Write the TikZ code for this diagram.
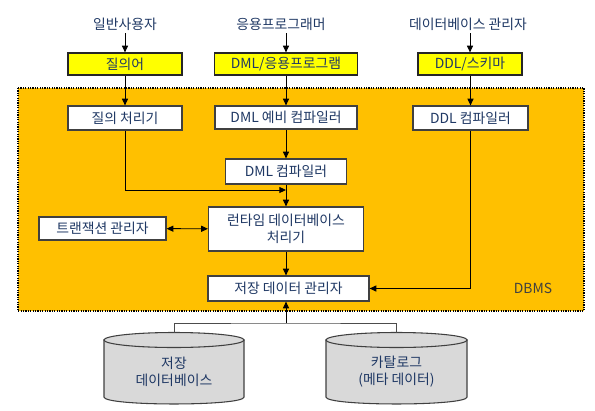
\documentclass[tikz,border=0pt]{standalone}
\usepackage{fontspec}
\setmainfont{Noto Sans CJK KR}
\usetikzlibrary{arrows.meta}
\definecolor{dbmsorange}{HTML}{FFC000}
\definecolor{inyellow}{HTML}{FFFF00}
\definecolor{labelblue}{HTML}{1F3864}
\definecolor{cylgray}{HTML}{D9D9D9}
\tikzset{
  txt/.style={text=labelblue, font=\fontsize{10.4}{12.75}\selectfont, align=center, inner sep=0pt},
  inbox/.style={txt, draw=black!85, line width=0.9pt, fill=inyellow, minimum height=16.5pt},
  procbox/.style={txt, draw=black!75, line width=0.9pt, fill=white},
  flow/.style={-{Triangle[length=5pt,width=4.5pt]}, line width=0.7pt},
  cyl/.style={draw=black!75, line width=0.8pt, fill=cylgray},
  dbmsarea/.style={fill=dbmsorange, draw=black, line width=1.2pt, dash pattern=on 0.9pt off 0.9pt},
}

\begin{document}
\begin{tikzpicture}[x=0.75pt, y=-0.75pt]
  \useasboundingbox (0,0) rectangle (595,410);
  % DBMS area
  \draw[dbmsarea] (18,88) rectangle (584,311);
  \node[txt, text=black!75] (dbmslabel) at (533,288) {DBMS};
  % users
  \node[txt, inner sep=2pt] (user) at (125,24) {일반사용자};
  \node[txt, inner sep=2pt] (progr) at (281,24) {응용프로그래머};
  \node[txt, inner sep=2pt] (dba) at (468,24) {데이터베이스 관리자};
  % inputs
  \node[inbox, minimum width=85.5pt] (query) at (125,64) {질의어};
  \node[inbox, minimum width=107.25pt] (dmlprog) at (286,64) {DML/응용프로그램};
  \node[inbox, minimum width=78pt] (ddlschema) at (470,64) {DDL/스키마};
  % processors
  \node[procbox, minimum width=85.5pt, minimum height=18pt] (qproc) at (125,118) {질의 처리기};
  \node[procbox, minimum width=106.5pt, minimum height=17.25pt] (predml) at (286,117.5) {DML 예비 컴파일러};
  \node[procbox, minimum width=86.25pt, minimum height=18pt] (ddlcomp) at (470.5,118) {DDL 컴파일러};
  \node[procbox, minimum width=90.75pt, minimum height=18.75pt] (dmlcomp) at (286,171.5) {DML 컴파일러};
  \node[procbox, minimum width=116.25pt, minimum height=33pt] (runtime) at (286,229) {런타임 데이터베이스\\처리기};
  \node[procbox, minimum width=95.25pt, minimum height=17.25pt] (transmgr) at (102.5,228.5) {트랜잭션 관리자};
  \node[procbox, minimum width=120.75pt, minimum height=18.75pt] (storemgr) at (288.5,288.5) {저장 데이터 관리자};
  \coordinate (qjoin) at (286,190);
  \coordinate (cjoin) at (286,323);
  % storage
  \path[cyl] (104,340) -- (104,397) .. controls (104,406.3) and (244,406.3) .. (244,397) -- (244,340) -- cycle;
  \draw[cyl] (174,340) ellipse [x radius=70, y radius=7.5];
  \node[txt] (storedb) at (174,372) {저장\\데이터베이스};
  \coordinate (storetop) at (174,332.5);
  \path[cyl] (326,340) -- (326,397) .. controls (326,406.3) and (467,406.3) .. (467,397) -- (467,340) -- cycle;
  \draw[cyl] (396.5,340) ellipse [x radius=70.5, y radius=7.5];
  \node[txt] (catalog) at (396.5,372) {카탈로그\\(메타 데이터)};
  \coordinate (cattop) at (396.5,332.5);
  % connectors
  \draw[flow] (user) -- (query);
  \draw[flow] (progr.south -| dmlprog.north) -- (dmlprog);
  \draw[flow] (dba.south -| ddlschema.north) -- (ddlschema);
  \draw[flow] (query) -- (qproc);
  \draw[flow] (dmlprog) -- (predml);
  \draw[flow] (ddlschema.south -| ddlcomp.north) -- (ddlcomp);
  \draw[flow] (predml) -- (dmlcomp);
  \draw[flow] (qproc) |- (qjoin);
  \draw[flow] (dmlcomp) -- (runtime);
  \draw[flow, {Triangle[length=5pt,width=4.5pt]}-{Triangle[length=5pt,width=4.5pt]}] (transmgr) -- (runtime);
  \draw[flow] (runtime.south) -- (runtime.south |- storemgr.north);
  \draw[flow] (ddlcomp) |- (storemgr);
  \draw[line width=0.7pt, draw=black!70] (storetop) |- (cjoin) -| (cattop);
  \draw[flow] (cjoin) -- (cjoin |- storemgr.south);
\end{tikzpicture}
\end{document}
